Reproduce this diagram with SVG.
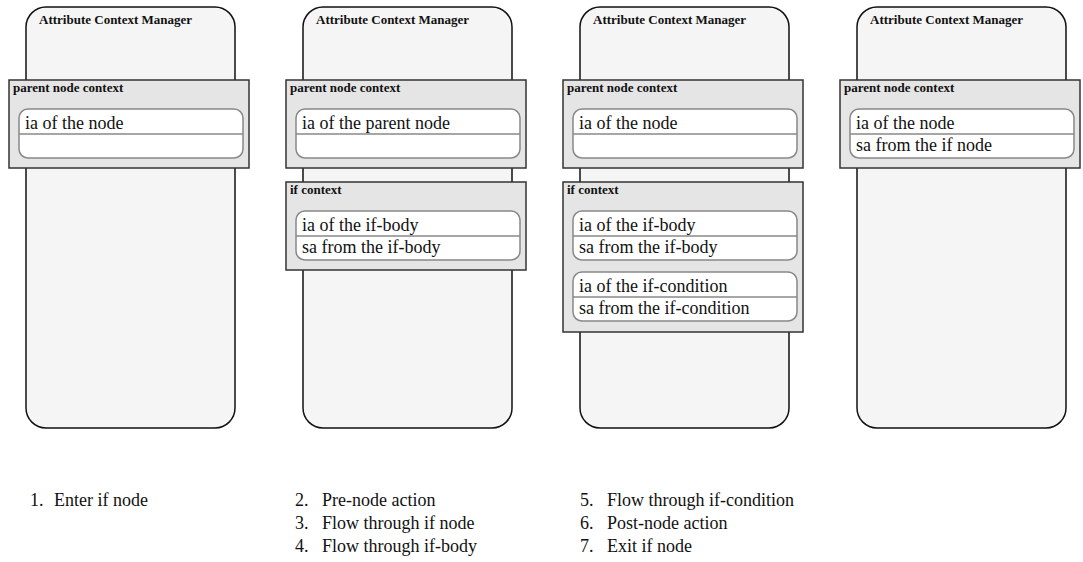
<svg xmlns="http://www.w3.org/2000/svg" width="1083" height="562" viewBox="0 0 1083 562">
  <style>
    .mgr { fill: #f5f5f5; stroke: #111; stroke-width: 1.5; }
    .ctx { fill: #e5e5e5; stroke: #333; stroke-width: 1.5; }
    .cell { fill: #ffffff; stroke: #888; stroke-width: 1.5; }
    .div { stroke: #888; stroke-width: 1.5; }
    .title { font-family: "Liberation Serif", serif; font-weight: bold; font-size: 13px; fill: #111; }
    .txt { font-family: "Liberation Serif", serif; font-size: 18px; fill: #111; }
  </style>
  <rect width="1083" height="562" fill="#ffffff"/>

  <!-- Step 1: enter if node -->
  <g id="panel1">
    <rect class="mgr" x="26" y="7" width="209" height="421" rx="20"/>
    <text class="title" x="39" y="24">Attribute Context Manager</text>
    <g id="panel1-parent">
      <rect class="ctx" x="9" y="80" width="240" height="88"/>
      <text class="title" x="13" y="92">parent node context</text>
      <rect class="cell" x="19" y="109" width="224" height="49" rx="9"/>
      <line class="div" x1="19" y1="134" x2="243" y2="134"/>
      <text class="txt" x="25" y="129">ia of the node</text>
    </g>
  </g>

  <!-- Steps 2-4: pre-node action, flow through if node and if-body -->
  <g id="panel2">
    <rect class="mgr" x="303" y="7" width="209" height="421" rx="20"/>
    <text class="title" x="316" y="24">Attribute Context Manager</text>
    <g id="panel2-parent">
      <rect class="ctx" x="286" y="80" width="240" height="88"/>
      <text class="title" x="290" y="92">parent node context</text>
      <rect class="cell" x="296" y="109" width="224" height="49" rx="9"/>
      <line class="div" x1="296" y1="134" x2="520" y2="134"/>
      <text class="txt" x="302" y="129">ia of the parent node</text>
    </g>
    <g id="panel2-if">
      <rect class="ctx" x="286" y="182" width="240" height="88"/>
      <text class="title" x="290" y="194">if context</text>
      <rect class="cell" x="296" y="211" width="224" height="49" rx="9"/>
      <line class="div" x1="296" y1="236" x2="520" y2="236"/>
      <text class="txt" x="302" y="231">ia of the if-body</text>
      <text class="txt" x="302" y="253">sa from the if-body</text>
    </g>
  </g>

  <!-- Steps 5-6: flow through if-condition, post-node action -->
  <g id="panel3">
    <rect class="mgr" x="580" y="7" width="209" height="421" rx="20"/>
    <text class="title" x="593" y="24">Attribute Context Manager</text>
    <g id="panel3-parent">
      <rect class="ctx" x="563" y="80" width="240" height="88"/>
      <text class="title" x="567" y="92">parent node context</text>
      <rect class="cell" x="573" y="109" width="224" height="49" rx="9"/>
      <line class="div" x1="573" y1="134" x2="797" y2="134"/>
      <text class="txt" x="579" y="129">ia of the node</text>
    </g>
    <g id="panel3-if">
      <rect class="ctx" x="563" y="182" width="240" height="150"/>
      <text class="title" x="567" y="194">if context</text>
      <rect class="cell" x="573" y="211" width="224" height="49" rx="9"/>
      <line class="div" x1="573" y1="236" x2="797" y2="236"/>
      <text class="txt" x="579" y="231">ia of the if-body</text>
      <text class="txt" x="579" y="253">sa from the if-body</text>
      <rect class="cell" x="573" y="272" width="224" height="49" rx="9"/>
      <line class="div" x1="573" y1="297" x2="797" y2="297"/>
      <text class="txt" x="579" y="292">ia of the if-condition</text>
      <text class="txt" x="579" y="314">sa from the if-condition</text>
    </g>
  </g>

  <!-- Step 7: exit if node -->
  <g id="panel4">
    <rect class="mgr" x="857" y="7" width="209" height="421" rx="20"/>
    <text class="title" x="870" y="24">Attribute Context Manager</text>
    <g id="panel4-parent">
      <rect class="ctx" x="840" y="80" width="240" height="88"/>
      <text class="title" x="844" y="92">parent node context</text>
      <rect class="cell" x="850" y="109" width="224" height="49" rx="9"/>
      <line class="div" x1="850" y1="134" x2="1074" y2="134"/>
      <text class="txt" x="856" y="129">ia of the node</text>
      <text class="txt" x="856" y="151">sa from the if node</text>
    </g>
  </g>

  <!-- connectors: none drawn between the panels -->
  <g id="connectors"/>

  <!-- numbered step legend -->
  <g id="legend" class="txt">
    <text x="30" y="506">1.</text><text x="54" y="506">Enter if node</text>
    <text x="295" y="506">2.</text><text x="322" y="506">Pre-node action</text>
    <text x="295" y="529">3.</text><text x="322" y="529">Flow through if node</text>
    <text x="295" y="552">4.</text><text x="322" y="552">Flow through if-body</text>
    <text x="580" y="506">5.</text><text x="607" y="506">Flow through if-condition</text>
    <text x="580" y="529">6.</text><text x="607" y="529">Post-node action</text>
    <text x="580" y="552">7.</text><text x="607" y="552">Exit if node</text>
  </g>
</svg>
